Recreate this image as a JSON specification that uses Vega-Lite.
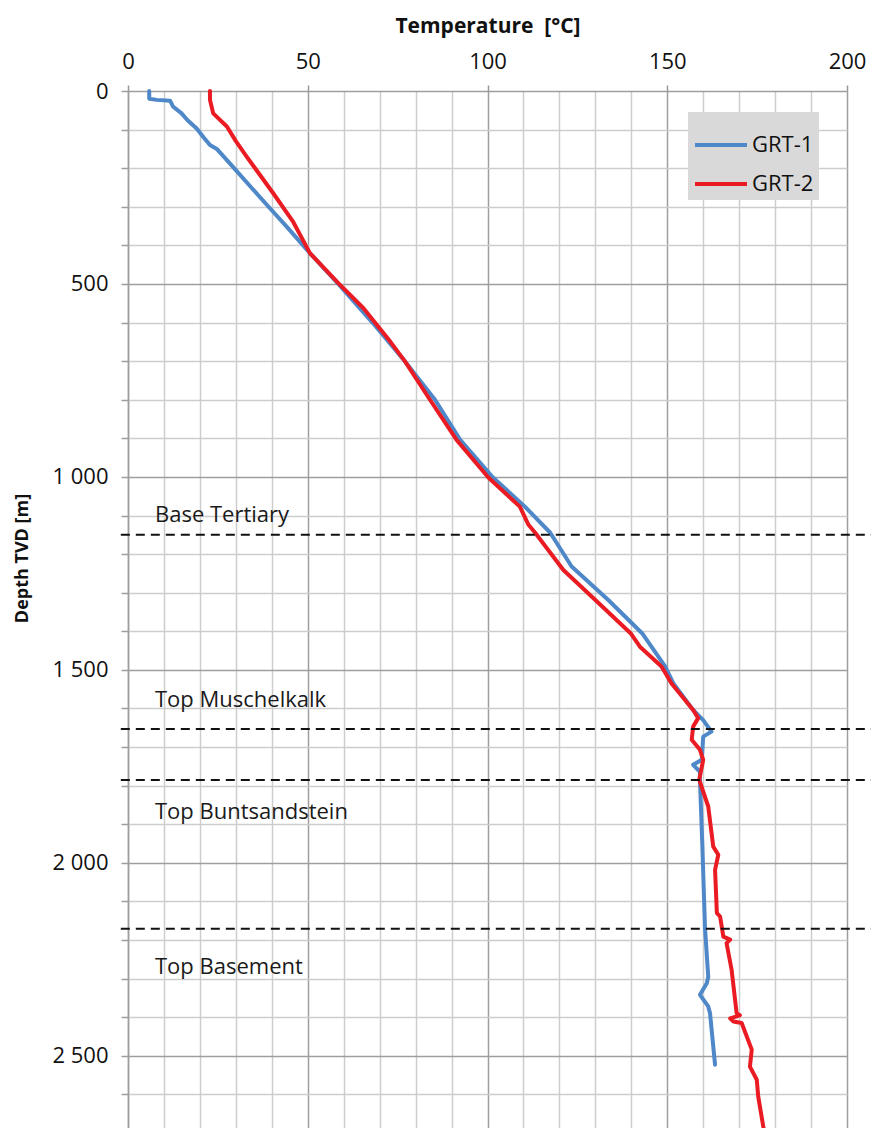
{
  "$schema": "https://vega.github.io/schema/vega-lite/v6.json",
  "width": 719,
  "height": 1042,
  "autosize": {"type": "none"},
  "padding": {"left": 128, "top": 91, "right": 24, "bottom": 0},
  "background": "white",
  "config": {"view": {"stroke": null}, "font": "Open Sans"},
  "resolve": {"axis": {"x": "independent", "y": "independent"}},
  "datasets": {
    "profiles": [
      {"well": "GRT-1", "depth": 0, "temp": 5.9},
      {"well": "GRT-1", "depth": 20, "temp": 5.9},
      {"well": "GRT-1", "depth": 23, "temp": 8},
      {"well": "GRT-1", "depth": 25, "temp": 11.7},
      {"well": "GRT-1", "depth": 40, "temp": 12.5},
      {"well": "GRT-1", "depth": 58, "temp": 14.9},
      {"well": "GRT-1", "depth": 75, "temp": 16.5},
      {"well": "GRT-1", "depth": 97, "temp": 19.1},
      {"well": "GRT-1", "depth": 120, "temp": 21},
      {"well": "GRT-1", "depth": 140, "temp": 22.8},
      {"well": "GRT-1", "depth": 150, "temp": 24.7},
      {"well": "GRT-1", "depth": 200, "temp": 29.5},
      {"well": "GRT-1", "depth": 250, "temp": 34.3},
      {"well": "GRT-1", "depth": 300, "temp": 39.1},
      {"well": "GRT-1", "depth": 350, "temp": 44},
      {"well": "GRT-1", "depth": 420, "temp": 50.6},
      {"well": "GRT-1", "depth": 500, "temp": 58.5},
      {"well": "GRT-1", "depth": 600, "temp": 68},
      {"well": "GRT-1", "depth": 700, "temp": 77},
      {"well": "GRT-1", "depth": 800, "temp": 85.4},
      {"well": "GRT-1", "depth": 904, "temp": 92.4},
      {"well": "GRT-1", "depth": 1002, "temp": 101.6},
      {"well": "GRT-1", "depth": 1077, "temp": 110.4},
      {"well": "GRT-1", "depth": 1144, "temp": 117.4},
      {"well": "GRT-1", "depth": 1232, "temp": 123.4},
      {"well": "GRT-1", "depth": 1319, "temp": 133.6},
      {"well": "GRT-1", "depth": 1405, "temp": 143},
      {"well": "GRT-1", "depth": 1491, "temp": 149.4},
      {"well": "GRT-1", "depth": 1535, "temp": 151.7},
      {"well": "GRT-1", "depth": 1604, "temp": 157.2},
      {"well": "GRT-1", "depth": 1630, "temp": 160},
      {"well": "GRT-1", "depth": 1660, "temp": 162.3},
      {"well": "GRT-1", "depth": 1673, "temp": 160},
      {"well": "GRT-1", "depth": 1733, "temp": 159.6},
      {"well": "GRT-1", "depth": 1746, "temp": 157.2},
      {"well": "GRT-1", "depth": 1764, "temp": 159.1},
      {"well": "GRT-1", "depth": 1785, "temp": 159.1},
      {"well": "GRT-1", "depth": 1966, "temp": 159.8},
      {"well": "GRT-1", "depth": 2169, "temp": 160.5},
      {"well": "GRT-1", "depth": 2295, "temp": 161.4},
      {"well": "GRT-1", "depth": 2312, "temp": 161},
      {"well": "GRT-1", "depth": 2342, "temp": 159.1},
      {"well": "GRT-1", "depth": 2372, "temp": 161.4},
      {"well": "GRT-1", "depth": 2390, "temp": 161.9},
      {"well": "GRT-1", "depth": 2523, "temp": 163.3},
      {"well": "GRT-2", "depth": 0, "temp": 22.8},
      {"well": "GRT-2", "depth": 23, "temp": 22.8},
      {"well": "GRT-2", "depth": 58, "temp": 23.7},
      {"well": "GRT-2", "depth": 92, "temp": 27.5},
      {"well": "GRT-2", "depth": 130, "temp": 30},
      {"well": "GRT-2", "depth": 170, "temp": 33},
      {"well": "GRT-2", "depth": 265, "temp": 40.4},
      {"well": "GRT-2", "depth": 340, "temp": 46},
      {"well": "GRT-2", "depth": 420, "temp": 50.6},
      {"well": "GRT-2", "depth": 498, "temp": 58.5},
      {"well": "GRT-2", "depth": 563, "temp": 65.5},
      {"well": "GRT-2", "depth": 650, "temp": 73},
      {"well": "GRT-2", "depth": 700, "temp": 77},
      {"well": "GRT-2", "depth": 800, "temp": 84},
      {"well": "GRT-2", "depth": 904, "temp": 91.4},
      {"well": "GRT-2", "depth": 1002, "temp": 100.3},
      {"well": "GRT-2", "depth": 1077, "temp": 109},
      {"well": "GRT-2", "depth": 1124, "temp": 111.4},
      {"well": "GRT-2", "depth": 1144, "temp": 113.2},
      {"well": "GRT-2", "depth": 1241, "temp": 121.1},
      {"well": "GRT-2", "depth": 1319, "temp": 130},
      {"well": "GRT-2", "depth": 1405, "temp": 139.8},
      {"well": "GRT-2", "depth": 1440, "temp": 142.4},
      {"well": "GRT-2", "depth": 1491, "temp": 148.4},
      {"well": "GRT-2", "depth": 1535, "temp": 151.2},
      {"well": "GRT-2", "depth": 1604, "temp": 157.2},
      {"well": "GRT-2", "depth": 1625, "temp": 158.6},
      {"well": "GRT-2", "depth": 1647, "temp": 157.2},
      {"well": "GRT-2", "depth": 1681, "temp": 156.8},
      {"well": "GRT-2", "depth": 1707, "temp": 159.1},
      {"well": "GRT-2", "depth": 1733, "temp": 160},
      {"well": "GRT-2", "depth": 1785, "temp": 158.9},
      {"well": "GRT-2", "depth": 1854, "temp": 161.4},
      {"well": "GRT-2", "depth": 1958, "temp": 162.8},
      {"well": "GRT-2", "depth": 1979, "temp": 164.2},
      {"well": "GRT-2", "depth": 2018, "temp": 163.3},
      {"well": "GRT-2", "depth": 2130, "temp": 163.8},
      {"well": "GRT-2", "depth": 2139, "temp": 164.7},
      {"well": "GRT-2", "depth": 2191, "temp": 165.6},
      {"well": "GRT-2", "depth": 2199, "temp": 167.5},
      {"well": "GRT-2", "depth": 2208, "temp": 166.5},
      {"well": "GRT-2", "depth": 2277, "temp": 167.9},
      {"well": "GRT-2", "depth": 2390, "temp": 169.3},
      {"well": "GRT-2", "depth": 2395, "temp": 170.2},
      {"well": "GRT-2", "depth": 2403, "temp": 167.5},
      {"well": "GRT-2", "depth": 2411, "temp": 168.4},
      {"well": "GRT-2", "depth": 2415, "temp": 170.7},
      {"well": "GRT-2", "depth": 2484, "temp": 173.5},
      {"well": "GRT-2", "depth": 2528, "temp": 173},
      {"well": "GRT-2", "depth": 2562, "temp": 174.9},
      {"well": "GRT-2", "depth": 2605, "temp": 175.3},
      {"well": "GRT-2", "depth": 2683, "temp": 176.7},
      {"well": "GRT-2", "depth": 2700, "temp": 177.1}
    ],
    "horizons": [
      {"name": "Base Tertiary", "depth": 1150, "labelDepth": 1098},
      {"name": "Top Muschelkalk", "depth": 1653, "labelDepth": 1578},
      {"name": "Top Buntsandstein", "depth": 1785, "labelDepth": 1868},
      {"name": "Top Basement", "depth": 2171, "labelDepth": 2269}
    ]
  },
  "layer": [
    {
      "data": {"name": "profiles"},
      "mark": {"type": "line", "strokeWidth": 4, "strokeJoin": "round", "strokeCap": "round"},
      "encoding": {
        "x": {
          "field": "temp", "type": "quantitative",
          "scale": {"domain": [0, 200], "nice": false, "zero": false},
          "axis": {
            "orient": "top",
            "title": "Temperature\u00a0\u00a0[°C]",
            "titleFont": "Open Sans", "titleFontSize": 21, "titleFontWeight": "bold", "titleColor": "#111",
            "titlePadding": 14,
            "values": [0,10,20,30,40,50,60,70,80,90,100,110,120,130,140,150,160,170,180,190,200],
            "labelExpr": "datum.value % 50 === 0 ? datum.label : ''",
            "labelFont": "Open Sans", "labelFontSize": 22, "labelColor": "#111",
            "labelPadding": 12, "labelFlush": false, "labelOverlap": false, "labelBound": false,
            "domain": false,
            "tickSize": 6, "tickColor": "#999", "tickWidth": 1.5,
            "tickOpacity": {"condition": {"test": "datum.value % 50 === 0", "value": 1}, "value": 0},
            "grid": true, "gridWidth": 1.5,
            "gridColor": {"condition": {"test": "datum.value % 50 === 0", "value": "#9e9e9e"}, "value": "#cdcdcd"}
          }
        },
        "y": {
          "field": "depth", "type": "quantitative",
          "scale": {"domain": [0, 2700], "reverse": true, "nice": false, "zero": false},
          "axis": {
            "title": "Depth TVD [m]",
            "titleFont": "Open Sans", "titleFontSize": 18, "titleFontWeight": "bold", "titleColor": "#111",
            "titleX": -106, "titleY": 467, "titleAngle": -90, "titleAlign": "center", "titleBaseline": "middle",
            "values": [0,100,200,300,400,500,600,700,800,900,1000,1100,1200,1300,1400,1500,1600,1700,1800,1900,2000,2100,2200,2300,2400,2500,2600,2700],
            "labelExpr": "datum.value % 500 === 0 ? replace(format(datum.value, ','), ',', ' ') : ''",
            "labelFont": "Open Sans", "labelFontSize": 22, "labelColor": "#111",
            "labelPadding": 13, "labelFlush": false, "labelOverlap": false,
            "domain": true, "domainColor": "#9e9e9e", "domainWidth": 1.5,
            "tickSize": 7, "tickColor": "#9e9e9e", "tickWidth": 1.5,
            "grid": true, "gridWidth": 1.5,
            "gridColor": {"condition": {"test": "datum.value % 500 === 0", "value": "#9e9e9e"}, "value": "#cdcdcd"}
          }
        },
        "color": {
          "field": "well", "type": "nominal",
          "scale": {"domain": ["GRT-1", "GRT-2"], "range": ["#4f88c9", "#ea1b22"]},
          "legend": {
            "title": null, "orient": "none", "legendX": 560, "legendY": 21,
            "fillColor": "#d9d9d9", "padding": 5,
            "symbolType": "stroke", "symbolSize": 2704, "symbolStrokeWidth": 4,
            "labelFont": "Open Sans", "labelFontSize": 22, "labelColor": "#111", "labelOffset": 3,
            "rowPadding": 0
          }
        },
        "order": {"field": "depth", "type": "quantitative"}
      }
    },
    {
      "data": {"name": "horizons"},
      "mark": {"type": "rule", "color": "#111", "strokeWidth": 2, "strokeDash": [9, 6]},
      "encoding": {
        "x": {"datum": -2, "type": "quantitative", "axis": null},
        "x2": {"datum": 207},
        "y": {"field": "depth", "type": "quantitative", "axis": null}
      }
    },
    {
      "data": {"name": "horizons"},
      "mark": {"type": "text", "align": "left", "baseline": "middle", "font": "Open Sans", "fontSize": 22, "color": "#1a1a1a"},
      "encoding": {
        "x": {"datum": 7.5, "type": "quantitative", "axis": null},
        "y": {"field": "labelDepth", "type": "quantitative", "axis": null},
        "text": {"field": "name", "type": "nominal"}
      }
    }
  ]
}
